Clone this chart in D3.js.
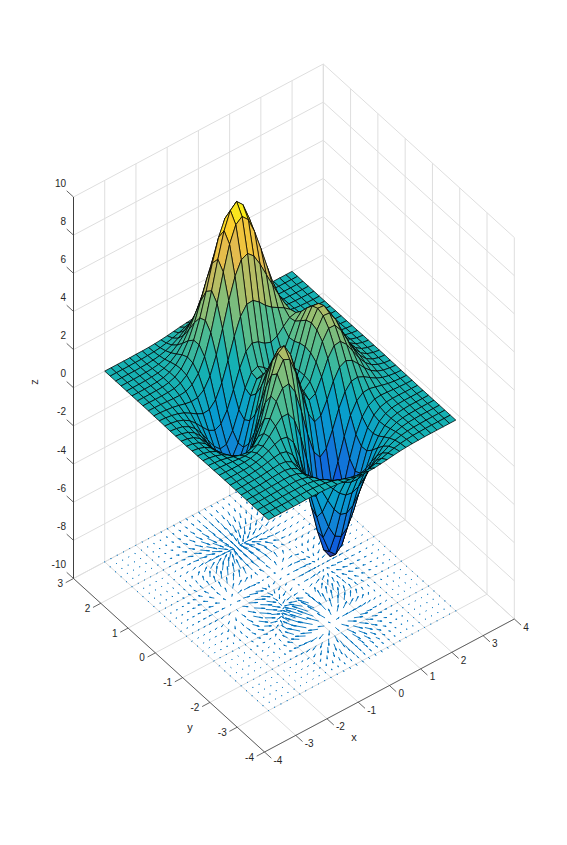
<!DOCTYPE html>
<html><head><meta charset="utf-8">
<script src="https://cdn.jsdelivr.net/npm/d3@7"></script>
<style>html,body{margin:0;padding:0;background:#fff}svg{display:block}text{font-family:"Liberation Sans",Arial,sans-serif;fill:#262626}</style>
</head><body><svg id="c" width="567" height="845"></svg>
<script>
const xGrid=[-3,-2.8,-2.6,-2.4,-2.2,-2,-1.8,-1.6,-1.4,-1.2,-1,-.8,-.6,-.4,-.2,0,.2,.4,.6,.8,1,1.2,1.4,1.6,1.8,2,2.2,2.4,2.6,2.8,3];
const yGrid=[-3,-2.8,-2.6,-2.4,-2.2,-2,-1.8,-1.6,-1.4,-1.2,-1,-.8,-.6,-.4,-.2,0,.2,.4,.6,.8,1,1.2,1.4,1.6,1.8,2,2.2,2.4,2.6,2.8,3];
const xTicks=[-4,-3,-2,-1,0,1,2,3,4];
const yTicks=[-4,-3,-2,-1,0,1,2,3];
const zTicks=[-10,-8,-6,-4,-2,0,2,4,6,8,10];
// surface heights, one row per y value (y = -3 first), one column per x value
const zRows=[
[0,0,0,0,0,0,.01,.01,0,-.01,-.03,-.06,-.11,-.16,-.21,-.24,-.25,-.24,-.2,-.16,-.11,-.07,-.04,-.02,-.01,0,0,0,0,0,0],
[0,0,0,0,0,.01,.01,.01,0,-.03,-.08,-.15,-.26,-.38,-.48,-.55,-.57,-.54,-.45,-.35,-.25,-.16,-.09,-.05,-.02,-.01,0,0,0,0,0],
[0,0,0,0,.01,.01,.01,.01,-.01,-.07,-.17,-.33,-.55,-.79,-1,-1.15,-1.18,-1.1,-.93,-.72,-.5,-.32,-.18,-.1,-.05,-.02,-.01,0,0,0,0],
[0,0,0,.01,.01,.02,.02,.02,-.02,-.12,-.31,-.61,-1,-1.43,-1.82,-2.09,-2.15,-2.01,-1.7,-1.31,-.91,-.58,-.33,-.17,-.08,-.03,-.01,0,0,0,0],
[0,0,0,.01,.02,.03,.04,.03,-.03,-.18,-.48,-.95,-1.58,-2.28,-2.93,-3.36,-3.48,-3.25,-2.76,-2.12,-1.47,-.93,-.53,-.27,-.12,-.05,-.02,-.01,0,0,0],
[0,0,.01,.01,.03,.05,.07,.07,0,-.19,-.59,-1.24,-2.14,-3.15,-4.1,-4.76,-4.96,-4.66,-3.95,-3.03,-2.1,-1.31,-.74,-.37,-.16,-.06,-.02,0,0,0,0],
[0,0,.01,.02,.03,.07,.1,.13,.09,-.09,-.53,-1.29,-2.38,-3.67,-4.92,-5.83,-6.16,-5.83,-4.97,-3.8,-2.61,-1.6,-.87,-.41,-.17,-.05,-.01,0,0,0,0],
[0,0,0,.01,.04,.08,.15,.22,.27,.18,-.16,-.87,-1.99,-3.42,-4.88,-6.02,-6.53,-6.28,-5.37,-4.09,-2.76,-1.63,-.83,-.34,-.1,0,.02,.02,.01,.01,0],
[0,0,0,0,.02,.07,.16,.31,.48,.59,.51,.06,-.86,-2.2,-3.73,-5.04,-5.76,-5.7,-4.91,-3.68,-2.37,-1.27,-.52,-.1,.07,.1,.08,.05,.03,.01,.01],
[0,-.01,-.02,-.02,-.02,.01,.11,.3,.62,1,1.3,1.3,.81,-.23,-1.64,-3.04,-3.98,-4.18,-3.64,-2.61,-1.47,-.53,.06,.32,.35,.27,.18,.1,.05,.02,.01],
[-.01,-.02,-.04,-.07,-.11,-.13,-.08,.12,.53,1.15,1.86,2.38,2.44,1.84,.66,-.72,-1.83,-2.28,-2,-1.2,-.27,.45,.83,.87,.72,.5,.3,.16,.08,.03,.01],
[-.01,-.04,-.08,-.15,-.25,-.35,-.41,-.29,.12,.87,1.88,2.87,3.44,3.29,2.4,1.09,-.09,-.69,-.54,.12,.91,1.48,1.65,1.49,1.14,.75,.44,.23,.11,.05,.02],
[-.02,-.05,-.12,-.23,-.42,-.64,-.85,-.9,-.62,.12,1.28,2.56,3.52,3.74,3.11,1.93,.78,.19,.36,1.05,1.85,2.35,2.4,2.07,1.54,1.01,.59,.31,.15,.06,.02],
[-.03,-.07,-.16,-.32,-.59,-.95,-1.34,-1.6,-1.51,-.9,.26,1.68,2.86,3.34,2.92,1.9,.87,.41,.72,1.57,2.47,3,2.99,2.54,1.88,1.22,.71,.37,.17,.07,.03],
[-.03,-.08,-.19,-.39,-.72,-1.19,-1.74,-2.2,-2.33,-1.88,-.82,.61,1.91,2.55,2.31,1.46,.6,.31,.79,1.8,2.82,3.4,3.37,2.85,2.1,1.37,.79,.41,.19,.08,.03],
[-.04,-.09,-.21,-.43,-.8,-1.33,-1.98,-2.57,-2.86,-2.58,-1.65,-.29,1.02,1.75,1.66,.98,.29,.16,.77,1.87,2.94,3.53,3.5,2.95,2.17,1.41,.82,.43,.2,.08,.03],
[-.04,-.09,-.2,-.42,-.79,-1.34,-2.01,-2.66,-3.03,-2.88,-2.1,-.88,.35,1.09,1.11,.6,.07,.04,.7,1.79,2.82,3.39,3.35,2.82,2.08,1.35,.78,.41,.19,.08,.03],
[-.03,-.08,-.18,-.38,-.72,-1.22,-1.84,-2.46,-2.85,-2.77,-2.14,-1.09,0,.7,.78,.41,.01,.05,.66,1.63,2.53,3.03,2.98,2.51,1.84,1.19,.69,.36,.17,.07,.03],
[-.03,-.07,-.15,-.32,-.59,-1.01,-1.53,-2.04,-2.36,-2.29,-1.74,-.84,.13,.78,.93,.69,.39,.41,.85,1.58,2.25,2.59,2.5,2.08,1.52,.98,.57,.3,.14,.06,.02],
[-.02,-.05,-.11,-.24,-.44,-.75,-1.12,-1.47,-1.64,-1.48,-.92,-.04,.91,1.62,1.89,1.78,1.53,1.41,1.56,1.89,2.18,2.27,2.08,1.68,1.2,.77,.44,.23,.11,.05,.02],
[-.01,-.03,-.08,-.16,-.29,-.48,-.69,-.85,-.82,-.48,.23,1.23,2.31,3.19,3.66,3.69,3.43,3.08,2.81,2.62,2.43,2.17,1.8,1.36,.93,.58,.33,.17,.08,.03,.01],
[-.01,-.02,-.05,-.09,-.16,-.25,-.31,-.28,-.04,.51,1.43,2.63,3.93,5.04,5.73,5.89,5.59,4.99,4.27,3.55,2.86,2.23,1.65,1.15,.74,.44,.24,.12,.05,.02,.01],
[0,-.01,-.02,-.04,-.06,-.07,-.03,.15,.55,1.26,2.34,3.71,5.17,6.46,7.31,7.57,7.23,6.43,5.38,4.26,3.2,2.29,1.56,1,.6,.33,.17,.08,.04,.01,.01],
[0,0,-.01,-.01,0,.03,.14,.38,.85,1.63,2.73,4.11,5.59,6.91,7.8,8.1,7.76,6.89,5.71,4.42,3.21,2.19,1.41,.85,.48,.26,.13,.06,.03,.01,0],
[0,0,0,.01,.02,.08,.2,.45,.9,1.61,2.6,3.82,5.13,6.31,7.12,7.4,7.1,6.31,5.19,3.98,2.84,1.89,1.18,.69,.37,.19,.09,.04,.02,.01,0],
[0,0,0,.01,.03,.08,.19,.4,.76,1.32,2.1,3.05,4.07,4.99,5.63,5.86,5.62,4.99,4.1,3.12,2.21,1.45,.89,.51,.27,.13,.06,.03,.01,0,0],
[0,0,0,.01,.03,.06,.14,.29,.54,.93,1.47,2.13,2.83,3.47,3.91,4.07,3.91,3.47,2.85,2.16,1.52,.99,.6,.34,.18,.09,.04,.02,.01,0,0],
[0,0,0,.01,.02,.04,.09,.18,.34,.58,.91,1.32,1.75,2.14,2.41,2.51,2.41,2.14,1.75,1.33,.93,.61,.36,.2,.11,.05,.02,.01,0,0,0],
[0,0,0,0,.01,.02,.05,.1,.19,.32,.5,.72,.96,1.17,1.32,1.38,1.32,1.17,.96,.73,.51,.33,.2,.11,.06,.03,.01,0,0,0,0],
[0,0,0,0,.01,.01,.03,.05,.09,.16,.25,.35,.47,.57,.64,.67,.64,.57,.47,.35,.25,.16,.1,.05,.03,.01,.01,0,0,0,0],
[0,0,0,0,0,.01,.01,.02,.04,.07,.11,.16,.21,.25,.29,.3,.29,.25,.21,.16,.11,.07,.04,.02,.01,.01,0,0,0,0,0]
];
const parulaStops=["#352a87","#0f5cdd","#127dd8","#079ccf","#15b1b4","#59bd8c","#a5be6b","#e1b952","#fcce2e","#f9fb0e"];

const svg=d3.select("#c");
// view box corners on the page
const O={x:264.5,y:752}, EX={x:249.8,y:-133}, EY={x:-191,y:-173.5}, EZ={x:0,y:-381.5};
const sx=d3.scaleLinear().domain([-4,4]).range([0,1]);
const sy=d3.scaleLinear().domain([-4,3]).range([0,1]);
const sz=d3.scaleLinear().domain([-10,10]).range([0,1]);
const P=(x,y,z)=>{const u=sx(x),v=sy(y),w=sz(z);return [O.x+u*EX.x+v*EY.x+w*EZ.x,O.y+u*EX.y+v*EY.y+w*EZ.y];};
const line=(g,a,b,st,w)=>g.append("line").attr("x1",a[0]).attr("y1",a[1]).attr("x2",b[0]).attr("y2",b[1]).attr("stroke",st).attr("stroke-width",w);

// grids
const grid=svg.append("g");const GC="#dedede",GW=1;
xTicks.forEach(x=>{line(grid,P(x,-4,-10),P(x,3,-10),GC,GW);line(grid,P(x,3,-10),P(x,3,10),GC,GW);});
yTicks.forEach(y=>{line(grid,P(-4,y,-10),P(4,y,-10),GC,GW);line(grid,P(4,y,-10),P(4,y,10),GC,GW);});
zTicks.forEach(z=>{line(grid,P(-4,3,z),P(4,3,z),GC,GW);line(grid,P(4,3,z),P(4,-4,z),GC,GW);});

// quiver on the floor, from the slope of the surface table
const quiver=svg.append("g").attr("stroke","#0072BD").attr("stroke-width",.9).attr("stroke-linecap","round").attr("fill","none");
const ny=yGrid.length,nx=xGrid.length;
const slopes=[];
zRows.forEach((row,i)=>row.forEach((z,j)=>{
  const j0=Math.max(j-1,0),j1=Math.min(j+1,nx-1),i0=Math.max(i-1,0),i1=Math.min(i+1,ny-1);
  slopes.push({x:xGrid[j],y:yGrid[i],u:(row[j1]-row[j0])/(xGrid[j1]-xGrid[j0]),v:(zRows[i1][j]-zRows[i0][j])/(yGrid[i1]-yGrid[i0])});
}));
const k=0.42/d3.max(slopes,s=>Math.hypot(s.u,s.v));
slopes.forEach(s=>{
  const u=s.u*k,v=s.v*k,a=P(s.x,s.y,-10),b=P(s.x+u,s.y+v,-10);
  const al=.3,be=.1;
  const h1=P(s.x+u-al*(u+be*v),s.y+v-al*(v-be*u),-10),h2=P(s.x+u-al*(u-be*v),s.y+v-al*(v+be*u),-10);
  quiver.append("path").attr("d",`M${a}L${b}M${h1}L${b}L${h2}`);
});

// surface
const color=d3.scaleLinear().domain(d3.range(parulaStops.length).map(i=>i/(parulaStops.length-1))).range(parulaStops);
const cn=d3.scaleLinear().domain(d3.extent(zRows.flat())).range([0,1]);
const surf=svg.append("g").attr("stroke","#000").attr("stroke-width",.75).attr("stroke-linejoin","round");
for(let i=ny-2;i>=0;i--)for(let j=nx-2;j>=0;j--){
  const pts=[[j,i],[j+1,i],[j+1,i+1],[j,i+1]].map(([c,r])=>P(xGrid[c],yGrid[r],zRows[r][c]));
  surf.append("path").attr("d","M"+pts.join("L")+"Z").attr("fill",color(cn(zRows[i][j])));
}

// axes
const ax=svg.append("g"),AC="#404040",AW=.8;
line(ax,P(-4,-4,-10),P(4,-4,-10),AC,AW);
line(ax,P(-4,-4,-10),P(-4,3,-10),AC,AW);
line(ax,P(-4,3,-10),P(-4,3,10),AC,1);
const lab=(p,t,anchor)=>ax.append("text").attr("x",p[0]).attr("y",p[1]).attr("text-anchor",anchor).attr("font-size",10).attr("dominant-baseline","central").text(t);
xTicks.forEach(x=>{const a=P(x,-4,-10),b=P(x,-4.25,-10);line(ax,a,b,AC,AW);lab([a[0]+9,a[1]+8],x,"start");});
yTicks.forEach(y=>{const a=P(-4,y,-10),b=P(-4.25,y,-10);line(ax,a,b,AC,AW);lab([a[0]-10.5,a[1]+5],y,"end");});
zTicks.forEach(z=>{const a=P(-4,3,z),b=P(-4,3.25,z);line(ax,a,b,AC,AW);lab([66,a[1]-14],z,"end");});
const title=(x,y,t,r)=>svg.append("text").attr("x",x).attr("y",y).attr("text-anchor","middle").attr("dominant-baseline","central").attr("font-size",11).attr("transform",r?`rotate(-90 ${x} ${y})`:null).text(t);
title(354,737,"x");title(190,727,"y");title(34,382,"z",true);
</script></body></html>
